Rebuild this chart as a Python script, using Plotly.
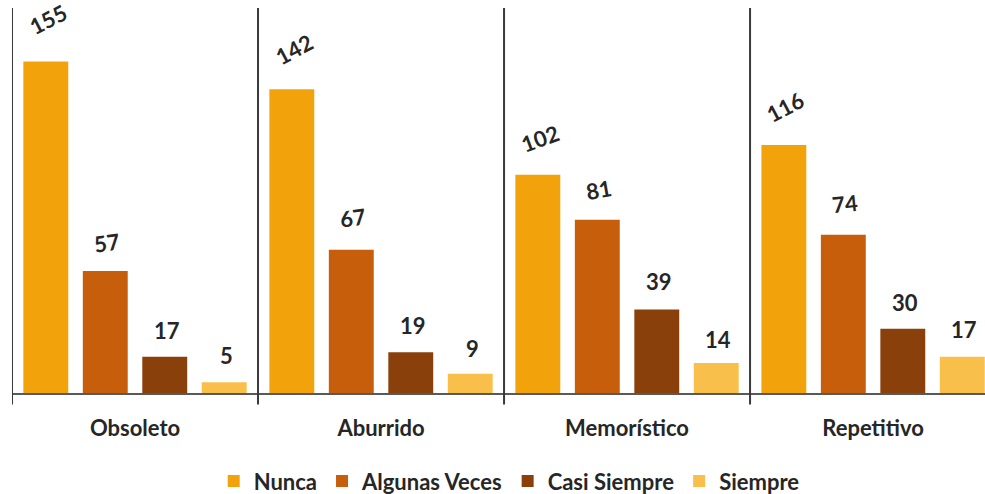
import plotly.graph_objects as go

categories = ["Obsoleto", "Aburrido", "Memorístico", "Repetitivo"]
series_names = ["Nunca", "Algunas Veces", "Casi Siempre", "Siempre"]
nunca = [155, 142, 102, 116]
algunas_veces = [57, 67, 81, 74]
casi_siempre = [17, 19, 39, 30]
siempre = [5, 9, 14, 17]

series_values = [nunca, algunas_veces, casi_siempre, siempre]
colors = ["#F2A30B", "#C65E0B", "#8A400A", "#F9BF4B"]
# label rotation (degrees) per series, per category
label_angles = [
    [-27, -28, -20, -28],
    [-8, -8, -10, -6],
    [0, 0, 0, 0],
    [0, 0, 0, 0],
]
label_shift = [
    [42, 40, 36, 38],
    [29, 32, 30, 31],
    [26, 27, 28, 26],
    [27, 25, 24, 27],
]

BARGAP = 0.033
FONT = "Lato, 'Open Sans', sans-serif"
TXT = "#262626"

fig = go.Figure()
for name, vals, col in zip(series_names, series_values, colors):
    fig.add_trace(go.Bar(name=name, x=categories, y=vals,
                         marker_color=col, marker_line_width=0))

slot = (1 - BARGAP) / len(series_names)
annotations = []
for si, vals in enumerate(series_values):
    for ci, v in enumerate(vals):
        xoff = (si - (len(series_names) - 1) / 2) * slot
        annotations.append(dict(
            x=ci + xoff, y=v, xref="x", yref="y", text=f"<b>{v}</b>",
            showarrow=False, textangle=label_angles[si][ci],
            yshift=label_shift[si][ci], xshift=2,
            font=dict(family=FONT, size=22, color=TXT),
        ))

shapes = []
for b in [i - 0.5 for i in range(len(categories) + 1)]:
    shapes.append(dict(type="line", xref="x", yref="paper", x0=b, x1=b,
                       y0=-0.03, y1=1, line=dict(color="#3a3a3a", width=2)))

fig.update_layout(
    width=985, height=494,
    margin=dict(l=12, r=0, t=8, b=101),
    paper_bgcolor="white", plot_bgcolor="white",
    barmode="group", bargap=BARGAP, bargroupgap=0.245,
    showlegend=True,
    legend=dict(orientation="h", x=0.511, xanchor="center",
                yref="container", y=0.026, yanchor="middle",
                font=dict(family=FONT, size=22, color=TXT, weight="bold"),
                itemwidth=30, traceorder="normal"),
    font=dict(family=FONT, color=TXT),
    annotations=annotations,
    shapes=shapes,
)
fig.update_xaxes(range=[-0.5, 3.455], showline=True, linecolor="#595959",
                 linewidth=2, ticks="", showgrid=False,
                 tickfont=dict(family=FONT, size=22, color=TXT, weight="bold"),
                 ticklabelstandoff=15)
fig.update_yaxes(range=[0, 180], visible=False, showgrid=False)

fig.write_html("out.html",
               config={"displayModeBar": False},
               post_script="document.body.style.margin='0';"
                           "document.body.style.overflow='hidden';")
